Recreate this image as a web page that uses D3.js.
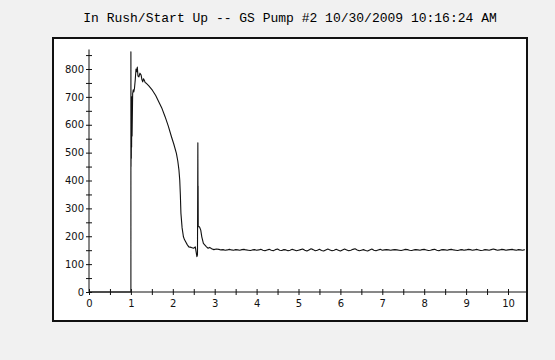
<!DOCTYPE html>
<html>
<head>
<meta charset="utf-8">
<script src="https://cdn.jsdelivr.net/npm/d3@7/dist/d3.min.js"></script>
<style>
  html, body { margin: 0; padding: 0; background: #f1f1f1; }
  svg { display: block; }
  .tick text { font-family: "DejaVu Sans", sans-serif; font-size: 10px; fill: #111; }
</style>
</head>
<body>
<svg id="chart" width="555" height="360"></svg>
<script>
// ---- data ----
var title = "In Rush/Start Up -- GS Pump #2 10/30/2009 10:16:24 AM";

// start-up transient: [seconds, amps]
var rushPoints = [
  [0, 0], [1.0, 0], [1.0, 862], [1.003, 450], [1.006, 600], [1.01, 480],
  [1.013, 690], [1.017, 520], [1.021, 700], [1.028, 560], [1.042, 712],
  [1.056, 725], [1.069, 718], [1.085, 730], [1.103, 760], [1.122, 800],
  [1.141, 790], [1.153, 807], [1.169, 775], [1.191, 772], [1.216, 785],
  [1.244, 778], [1.263, 762], [1.282, 754], [1.301, 765], [1.32, 760],
  [1.338, 752], [1.357, 750], [1.423, 740], [1.512, 724], [1.592, 705],
  [1.667, 682], [1.743, 658], [1.818, 628], [1.893, 595], [1.968, 557],
  [2.025, 530], [2.086, 497], [2.119, 470], [2.147, 437], [2.166, 401],
  [2.18, 350], [2.194, 282], [2.222, 230], [2.254, 198], [2.278, 188],
  [2.307, 180], [2.344, 170], [2.382, 162], [2.438, 160], [2.498, 157],
  [2.537, 162], [2.575, 127], [2.589, 133], [2.598, 535], [2.601, 330],
  [2.604, 380], [2.607, 235], [2.636, 234], [2.667, 222], [2.692, 198],
  [2.73, 174], [2.767, 168], [2.805, 162], [2.842, 157], [2.88, 160],
  [2.927, 155], [2.98, 152], [3.04, 154]
];

// steady running current, sampled every 0.05 s from 3.10 s
var steadyStart = 3.1;
var steadyStep = 0.05;
var steadyAmps = [
  153,151,152,150,151,153,151,150,152,151,150,152,153,151,150,149,151,152,150,151,
  153,150,148,151,153,150,148,152,154,150,149,152,151,148,150,153,151,148,150,152,
  154,150,147,151,155,152,148,150,153,149,147,151,154,151,148,150,153,150,147,151,
  154,151,148,150,153,155,151,148,150,152,149,147,151,154,150,148,151,153,150,151,
  152,151,150,151,152,151,150,149,151,153,152,150,149,151,152,151,150,152,153,151,
  149,150,152,153,150,148,151,152,151,150,152,153,151,150,149,151,152,150,151,153,
  152,150,151,153,151,149,150,152,151,150,152,154,152,150,151,153,152,150,151,152,
  153,151,150,152,151,150,152
];

var xTicks = [0, 0.5, 1, 1.5, 2, 2.5, 3, 3.5, 4, 4.5, 5, 5.5, 6, 6.5, 7, 7.5, 8, 8.5, 9, 9.5, 10];
var yTicks = [0, 50, 100, 150, 200, 250, 300, 350, 400, 450, 500, 550, 600, 650, 700, 750, 800, 850];
var xMax = 10.45;
var yMax = 870;

// ---- layout ----
var svg = d3.select("#chart");
var frame = { left: 53, top: 38, right: 527, bottom: 321 };

var x = d3.scaleLinear().domain([0, 10]).range([89, 508]);
var y = d3.scaleLinear().domain([0, 800]).range([292, 69]);

svg.append("text")
  .attr("x", (frame.left + frame.right) / 2)
  .attr("y", 22)
  .attr("text-anchor", "middle")
  .style("font-family", "'Liberation Mono', 'DejaVu Sans Mono', monospace")
  .style("font-size", "13px")
  .style("fill", "#000")
  .text(title);

svg.append("rect")
  .attr("x", frame.left)
  .attr("y", frame.top)
  .attr("width", frame.right - frame.left)
  .attr("height", frame.bottom - frame.top)
  .attr("fill", "#fff")
  .attr("stroke", "#111")
  .attr("stroke-width", 2);

// y axis: ticks cross the axis, labels on the left
var yLeft = svg.append("g")
  .attr("transform", "translate(" + x(0) + ",0)")
  .call(d3.axisLeft(y).tickValues(yTicks).tickSize(3).tickPadding(2)
    .tickFormat(function(d) { return d % 100 === 0 && d <= 800 ? d : ""; }));
var yRight = svg.append("g")
  .attr("transform", "translate(" + x(0) + ",0)")
  .call(d3.axisRight(y).tickValues(yTicks).tickSize(3).tickFormat(""));

var xBottom = svg.append("g")
  .attr("transform", "translate(0," + y(0) + ")")
  .call(d3.axisBottom(x).tickValues(xTicks).tickSize(3).tickPadding(5)
    .tickFormat(function(d) { return d % 1 === 0 ? d : ""; }));
var xTop = svg.append("g")
  .attr("transform", "translate(0," + y(0) + ")")
  .call(d3.axisTop(x).tickValues(xTicks).tickSize(3).tickFormat(""));

[yLeft, yRight, xBottom, xTop].forEach(function(g) {
  g.select(".domain").remove();
  g.selectAll(".tick line").attr("stroke", "#111");
});

// axis lines run past the last labelled tick
svg.append("line")
  .attr("x1", x(0)).attr("x2", x(0))
  .attr("y1", y(0)).attr("y2", y(yMax))
  .attr("stroke", "#111");
svg.append("line")
  .attr("x1", x(0)).attr("x2", x(xMax))
  .attr("y1", y(0)).attr("y2", y(0))
  .attr("stroke", "#111");

// the trace
var trace = rushPoints.concat(steadyAmps.map(function(a, i) {
  return [steadyStart + i * steadyStep, a];
}));

var line = d3.line()
  .x(function(d) { return x(d[0]); })
  .y(function(d) { return y(d[1]); });

svg.append("path")
  .datum(trace)
  .attr("d", line)
  .attr("fill", "none")
  .attr("stroke", "#111")
  .attr("stroke-width", 1.1)
  .attr("stroke-linejoin", "round");
</script>
</body>
</html>
